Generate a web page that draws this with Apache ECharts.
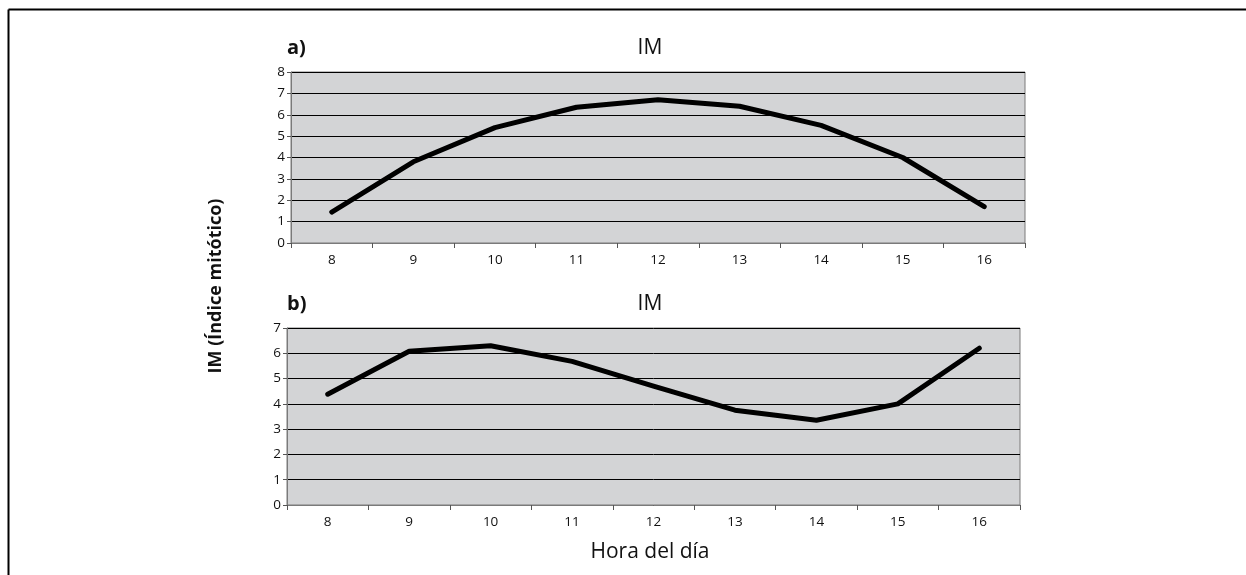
<!DOCTYPE html>
<html><head><meta charset="utf-8">
<script src="https://cdn.jsdelivr.net/npm/echarts@6/dist/echarts.min.js"></script>
<style>html,body{margin:0;padding:0;background:#fff}#c{width:1246px;height:575px}</style>
</head><body><div id="c"></div>
<script>
const hours = ['8','9','10','11','12','13','14','15','16'];
const imA = [1.45, 3.8, 5.4, 6.35, 6.7, 6.4, 5.5, 4.0, 1.7];
const imB = [4.38, 6.08, 6.3, 5.68, 4.7, 3.75, 3.35, 4.0, 6.2];

const FONT = '"Open Sans", "Noto Sans", sans-serif';
const chart = echarts.init(document.getElementById('c'));

function xAxis(gi){
  return {
    type:'category', gridIndex:gi, data:hours, boundaryGap:true,
    axisLine:{show:true, lineStyle:{color:'#7a7a7a', width:1}},
    axisTick:{show:true, length:5, lineStyle:{color:'#555'}},
    axisLabel:{color:'#111', fontSize:13.5, fontFamily:FONT, margin:10},
    splitLine:{show:false}
  };
}
function yAxis(gi, max){
  return {
    type:'value', gridIndex:gi, min:0, max:max, interval:1,
    axisLine:{show:true, lineStyle:{color:'#7a7a7a', width:1}},
    axisTick:{show:true, length:4, lineStyle:{color:'#555'}},
    axisLabel:{color:'#111', fontSize:13.5, fontFamily:FONT, margin:6},
    splitLine:{show:true, lineStyle:{color:'#000', width:1}}
  };
}

chart.setOption({
  animation:false,
  backgroundColor:'#fff',
  title:[
    {text:'a)', left:282, top:33, textStyle:{fontSize:20, fontWeight:'bold', color:'#111', fontFamily:FONT}},
    {text:'IM', left:645, top:33, textAlign:'center', textStyle:{fontSize:21, fontWeight:'normal', color:'#111', fontFamily:FONT}},
    {text:'b)', left:282, top:289, textStyle:{fontSize:20, fontWeight:'bold', color:'#111', fontFamily:FONT}},
    {text:'IM', left:645, top:289, textAlign:'center', textStyle:{fontSize:21, fontWeight:'normal', color:'#111', fontFamily:FONT}},
    {text:'Hora del día', left:645, top:537, textAlign:'center', textStyle:{fontSize:21, fontWeight:'normal', color:'#111', fontFamily:FONT}}
  ],
  grid:[
    {left:291, right:221, top:72, height:171, show:true, backgroundColor:'#d3d4d6', borderColor:'#7a7a7a', borderWidth:1},
    {left:287, right:226, top:328, height:177, show:true, backgroundColor:'#d3d4d6', borderColor:'#7a7a7a', borderWidth:1}
  ],
  xAxis:[xAxis(0), xAxis(1)],
  yAxis:[yAxis(0, 8), yAxis(1, 7)],
  series:[
    {type:'line', xAxisIndex:0, yAxisIndex:0, data:imA, showSymbol:false, symbol:'none',
     lineStyle:{color:'#000', width:5, cap:'round', join:'round'}},
    {type:'line', xAxisIndex:1, yAxisIndex:1, data:imB, showSymbol:false, symbol:'none',
     lineStyle:{color:'#000', width:5, cap:'round', join:'round'}}
  ],
  graphic:[
    {type:'line', shape:{x1:8.5, y1:9.5, x2:1246, y2:9.5}, style:{stroke:'#000', lineWidth:2}},
    {type:'line', shape:{x1:8.5, y1:9.5, x2:8.5, y2:575}, style:{stroke:'#000', lineWidth:2}},
    {type:'text', x:216, y:286, rotation:Math.PI/2, style:{text:'IM (Índice mitótico)', fontSize:18, fontWeight:'bold', fill:'#111', fontFamily:FONT, align:'center', verticalAlign:'middle'}}
  ]
});
</script>
</body></html>
